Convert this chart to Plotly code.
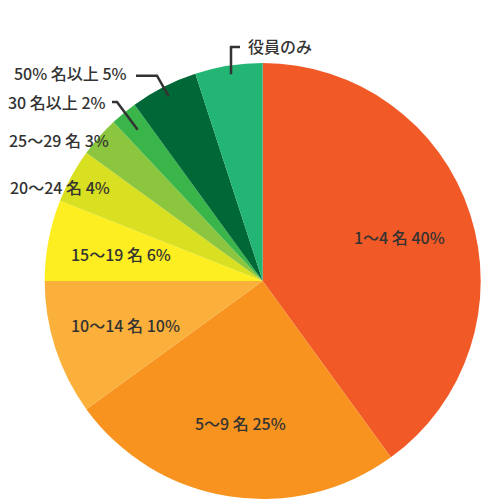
import numpy as np
import plotly.graph_objects as go

labels = ['1〜4 名', '5〜9 名', '10〜14 名', '15〜19 名', '20〜24 名',
          '25〜29 名', '30 名以上', '50% 名以上', '役員のみ']
shares = [40, 25, 10, 6, 4, 3, 2, 5, 5]
show_pct = [True, True, True, True, True, True, True, True, False]
colors = ['#F15A27', '#F7931E', '#FBB03B', '#FCEE21', '#D9E021',
          '#8CC63F', '#39B54A', '#006837', '#22B573']

W = H = 500
CX, CY, R = 262.7, 281.0, 218.0
TEXT = '#333333'
FONT = 'Noto Sans CJK JP'


def px(x, y):
    return x / W, 1 - y / H


def polar(angle, frac):
    # angle in degrees clockwise from 12 o'clock
    a = np.radians(angle)
    return CX + frac * R * np.sin(a), CY - frac * R * np.cos(a)


def label_text(i):
    return f'{labels[i]} {shares[i]}%' if show_pct[i] else labels[i]


total = sum(shares)
ends = np.cumsum(shares) / total * 360
mids = ends - np.array(shares) / total * 180

fig = go.Figure(go.Pie(
    labels=labels, values=shares, sort=False, direction='clockwise', rotation=0,
    marker=dict(colors=colors, line=dict(width=0)),
    textinfo='none', hoverinfo='skip', showlegend=False,
    domain=dict(x=[(CX - R) / W, (CX + R) / W], y=[1 - (CY + R) / H, 1 - (CY - R) / H]),
))

annotations = []
shapes = []

# labels inside the big slices
for i in range(4):
    x, y = polar(mids[i], 0.66)
    xp, yp = px(x, y)
    annotations.append(dict(x=xp, y=yp, text=label_text(i), showarrow=False,
                            xanchor='center', yanchor='middle'))

# outside labels on the left (right edge of text, y centre)
outer = {4: (112, 187), 5: (111, 140), 6: (108, 102), 7: (129, 73)}
for i, (x, y) in outer.items():
    xp, yp = px(x, y)
    annotations.append(dict(x=xp, y=yp, text=label_text(i), showarrow=False,
                            xanchor='right', yanchor='middle'))

xp, yp = px(246, 46)
annotations.append(dict(x=xp, y=yp, text=label_text(8), showarrow=False,
                        xanchor='left', yanchor='middle'))

# leader lines: text end -> elbow -> point inside slice
leaders = {6: ((112, 102), (117, 102), 0.90),
           7: ((136, 75.7), (157, 75.7), 0.95),
           8: ((240, 47), (231, 47), 0.96)}
for i, (p0, p1, frac) in leaders.items():
    ex, ey = polar(mids[i], frac)
    if i == 8:
        ex = p1[0]
    pts = [px(*p0), px(*p1), px(ex, ey)]
    path = 'M {} {} L {} {} L {} {}'.format(*[v for p in pts for v in p])
    shapes.append(dict(type='path', xref='paper', yref='paper', path=path,
                       line=dict(color=TEXT, width=2.5)))

fig.update_layout(
    width=W, height=H,
    margin=dict(l=0, r=0, t=0, b=0),
    paper_bgcolor='white', plot_bgcolor='white',
    font=dict(family=FONT, size=16, color=TEXT, weight=500),
    annotations=annotations, shapes=shapes,
)

fig.write_html("out.html", config={'displayModeBar': False},
               post_script="document.body.style.margin='0';")
